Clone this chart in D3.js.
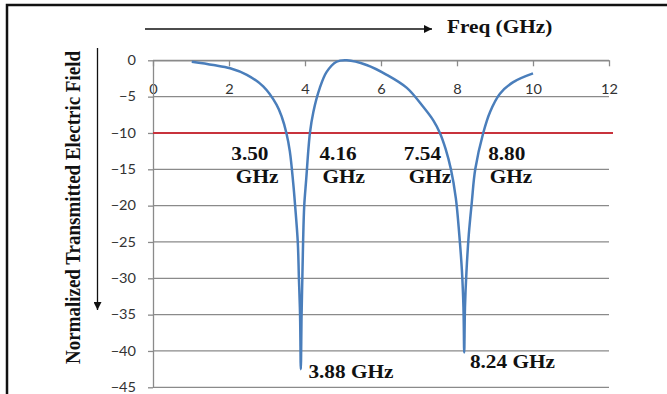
<!DOCTYPE html>
<html>
<head>
<meta charset="utf-8">
<script src="https://cdn.jsdelivr.net/npm/d3@7"></script>
<style>
  body { margin: 0; background: #fff; }
  svg { display: block; }
</style>
</head>
<body>
<div id="chart"></div>
<script>
// curve: [freq GHz, normalized field]
const freq  = [1.02, 1.59, 2.03, 2.47, 2.9, 3.25, 3.39, 3.51, 3.6, 3.69, 3.74, 3.81, 3.84, 3.87, 3.89,
               3.91, 3.93, 3.95, 3.98, 4.03, 4.13, 4.22, 4.39, 4.57, 4.83, 5.1, 5.62, 6.15, 6.68,
               7.11, 7.38, 7.55, 7.7, 7.84, 7.97, 8.06, 8.13, 8.17, 8.19, 8.21, 8.25, 8.31, 8.39, 8.48,
               8.69, 8.87, 9.13, 9.48, 10.0];
const field = [-0.2, -0.65, -1.1, -2.0, -3.6, -6.1, -7.8, -10, -12.5, -16.9, -20, -25, -30, -35, -42.5,
               -35, -30, -25, -20, -16.5, -10, -7.1, -3.8, -1.6, -0.2, 0, -0.65, -2.0, -3.8,
               -6.4, -8.3, -10, -12.2, -15, -19, -24, -29, -34, -40.2, -34, -29, -24, -19.5, -15,
               -10, -7.1, -4.6, -3.0, -1.8];

const xTicks = [0, 2, 4, 6, 8, 10, 12];
const yTicks = [0, -5, -10, -15, -20, -25, -30, -35, -40, -45];
const threshold = -10;

// -10 crossings, number line and "GHz" line
const crossText = ["3.50", "4.16", "7.54", "8.80"];
const crossNumX = [2.55, 4.87, 7.09, 9.31];
const crossGhzX = [2.74, 5.02, 7.29, 9.42];
const crossNumY = -13.7;
const crossGhzY = -16.9;

// resonance labels
const dipText = ["3.88 GHz", "8.24 GHz"];
const dipX = [4.09, 8.34];
const dipY = [-43.7, -42.3];

const W = 667, H = 394;
const gridColor = '#8a8a8a';
const serif = '"Liberation Serif", "Times New Roman", serif';
const sans = 'Lato, "Open Sans", sans-serif';
const sx = 1.12;   // text in the reference is a bit wide

const svg = d3.select('#chart').append('svg')
    .attr('width', W)
    .attr('height', H);

const x = d3.scaleLinear().domain([0, 12]).range([153, 609]);
const y = d3.scaleLinear().domain([-45, 0]).range([387.3, 60.3]);

// frame
svg.append('path')
    .attr('d', `M7,${H} L7,5 L${W},5`)
    .attr('fill', 'none')
    .attr('stroke', '#111')
    .attr('stroke-width', 2.5);

// horizontal gridlines
svg.selectAll('.grid')
    .data(yTicks)
    .join('line')
    .attr('x1', x(0))
    .attr('x2', x(12))
    .attr('y1', d => y(d))
    .attr('y2', d => y(d))
    .attr('stroke', gridColor)
    .attr('stroke-width', 1.3);

// x axis along y = 0, ticks point down, labels below
const xAxis = svg.append('g')
    .attr('transform', `translate(0,${y(0)})`)
    .call(d3.axisBottom(x).tickValues(xTicks).tickSize(6).tickSizeOuter(0).tickPadding(18));
xAxis.select('.domain').attr('stroke', gridColor).attr('stroke-width', 1.3);
xAxis.selectAll('.tick line').attr('stroke', gridColor).attr('stroke-width', 1.3);
xAxis.selectAll('.tick text')
    .attr('fill', '#333')
    .style('font-family', sans)
    .style('font-size', '13px')
    .attr('transform', `scale(${sx},1)`);

// y axis
const yAxis = svg.append('g')
    .attr('transform', `translate(${x(0)},0)`)
    .call(d3.axisLeft(y).tickValues(yTicks).tickSize(5).tickSizeOuter(0)
        .tickFormat(d => d3.format('d')(d)));
yAxis.select('.domain').attr('stroke', gridColor).attr('stroke-width', 1.3);
yAxis.selectAll('.tick line').attr('stroke', gridColor).attr('stroke-width', 1.3);
yAxis.selectAll('.tick text')
    .attr('fill', '#333')
    .style('font-family', sans)
    .style('font-size', '13px')
    .attr('x', 0)
    .attr('transform', `translate(-17,0) scale(${sx},1)`);

// -10 threshold
svg.append('line')
    .attr('x1', x(0))
    .attr('x2', x(12) + 4)
    .attr('y1', y(threshold))
    .attr('y2', y(threshold))
    .attr('stroke', '#c8323c')
    .attr('stroke-width', 2);

// transmitted field curve
const pts = freq.map((f, i) => [f, field[i]]);
svg.append('path')
    .datum(pts)
    .attr('fill', 'none')
    .attr('stroke', '#4a7ebb')
    .attr('stroke-width', 2.5)
    .attr('d', d3.line()
        .x(d => x(d[0]))
        .y(d => y(d[1]))
        .curve(d3.curveCatmullRom.alpha(0.5)));

// bold serif text helper
function label(txt, px, py, anchor, size) {
    svg.append('text')
        .text(txt)
        .attr('transform', `translate(${px},${py}) scale(${sx},1)`)
        .attr('text-anchor', anchor)
        .attr('fill', '#111')
        .style('font-family', serif)
        .style('font-weight', 'bold')
        .style('font-size', size + 'px');
}

crossText.forEach((t, i) => {
    label(t, x(crossNumX[i]), y(crossNumY), 'middle', 19);
    label('GHz', x(crossGhzX[i]), y(crossGhzY), 'middle', 19);
});
dipText.forEach((t, i) => label(t, x(dipX[i]), y(dipY[i]), 'start', 19));

// freq arrow and title
svg.append('defs').append('marker')
    .attr('id', 'head')
    .attr('viewBox', '0 0 10 10')
    .attr('refX', 10)
    .attr('refY', 5)
    .attr('markerWidth', 10)
    .attr('markerHeight', 8)
    .attr('markerUnits', 'userSpaceOnUse')
    .attr('orient', 'auto')
    .append('path')
    .attr('d', 'M0,0 L10,5 L0,10 Z')
    .attr('fill', '#111');

svg.append('line')
    .attr('x1', 145).attr('x2', 432)
    .attr('y1', 29).attr('y2', 29)
    .attr('stroke', '#111')
    .attr('stroke-width', 1.3)
    .attr('marker-end', 'url(#head)');
label('Freq (GHz)', 447, 33, 'start', 19);

// y title and arrow
svg.append('line')
    .attr('x1', 97.5).attr('x2', 97.5)
    .attr('y1', 48).attr('y2', 310)
    .attr('stroke', '#111')
    .attr('stroke-width', 1.3)
    .attr('marker-end', 'url(#head)');

svg.append('text')
    .text('Normalized Transmitted Electric Field')
    .attr('transform', `translate(80,207.5) rotate(-90) scale(1,${sx})`)
    .attr('text-anchor', 'middle')
    .attr('fill', '#111')
    .style('font-family', serif)
    .style('font-weight', 'bold')
    .style('font-size', '19px');
</script>
</body>
</html>
